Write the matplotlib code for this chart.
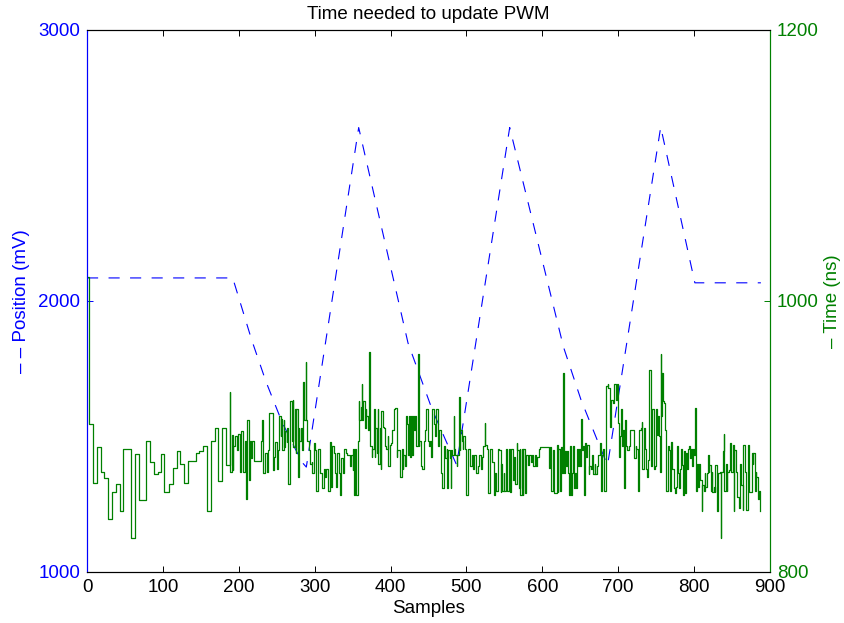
import matplotlib
matplotlib.use('Agg')
import matplotlib.pyplot as plt

plt.rcParams['font.family'] = ['Liberation Sans', 'DejaVu Sans']
plt.rcParams['lines.scale_dashes'] = False

C_POS = '#0000FF'
C_TIME = '#008000'

# ---- data ----
# position setpoint, piecewise linear
pos_idx = [0, 192, 217, 236, 257, 283, 289, 358, 423, 455, 487,
           557, 628, 651, 682, 686, 756, 801, 888]
pos_mv = [2085, 2085, 1856, 1701, 1553, 1406, 1387, 2640, 1845, 1598, 1395,
          2640, 1829, 1635, 1420, 1395, 2642, 2067, 2067]

# time needed per sample (ns), step trace: (sample, value)
time_trace = [
    (0, 1018), (3, 909), (8, 866), (13, 892), (18, 874), (23, 869), (28, 839),
    (33, 859), (38, 865), (43, 845), (48, 891), (58, 825), (63, 887), (68, 853),
    (78, 897), (83, 881), (88, 872), (93, 874), (98, 887), (102, 859), (108, 865),
    (113, 877), (118, 889), (123, 880), (128, 866), (133, 882), (143, 888),
    (148, 889), (153, 893), (158, 845), (163, 897), (168, 906), (173, 867),
    (178, 906), (183, 879), (188, 933), (189, 874), (191, 901), (192, 875),
    (193, 893), (195, 900), (198, 890), (199, 902), (201, 896), (202, 874),
    (203, 904), (205, 902), (206, 874), (208, 897), (209, 854), (211, 912),
    (213, 868), (215, 897), (216, 884), (218, 897), (220, 882), (229, 897),
    (231, 912), (232, 873), (234, 888), (237, 874), (238, 890), (240, 917),
    (245, 875), (246, 885), (248, 896), (250, 876), (252, 890), (253, 915),
    (255, 900), (256, 913), (257, 890), (259, 912), (260, 892), (261, 904),
    (263, 896), (264, 906), (265, 865), (267, 895), (268, 926), (270, 897),
    (271, 927), (272, 892), (274, 920), (275, 888), (276, 920), (278, 870),
    (279, 906), (280, 897), (282, 906), (283, 890), (285, 940), (286, 912),
    (288, 955), (289, 912), (290, 897), (292, 890), (294, 880), (296, 881),
    (297, 873), (299, 895), (300, 890), (302, 860), (304, 891), (307, 873),
    (309, 872), (310, 862), (312, 876), (314, 870), (315, 876), (317, 860),
    (320, 896), (321, 863), (323, 893), (325, 888), (327, 873), (328, 863),
    (330, 888), (332, 873), (334, 857), (335, 884), (337, 873), (339, 891),
    (341, 888), (343, 886), (346, 878), (348, 886), (350, 875), (351, 891),
    (352, 857), (353, 891), (355, 857), (357, 897), (358, 926), (359, 912),
    (361, 922), (362, 939), (363, 912), (364, 926), (366, 906), (367, 920),
    (368, 915), (370, 905), (371, 927), (372, 962), (373, 893), (375, 885),
    (376, 891), (378, 920), (379, 885), (380, 906), (382, 888), (383, 920),
    (384, 880), (386, 906), (387, 876), (388, 919), (390, 907), (391, 906),
    (393, 893), (394, 891), (396, 900), (397, 878), (399, 894), (400, 895),
    (402, 905), (404, 920), (406, 921), (408, 885), (409, 890), (412, 885),
    (413, 870), (415, 891), (416, 876), (417, 886), (419, 878), (420, 915),
    (422, 909), (423, 886), (424, 915), (426, 885), (427, 915), (428, 886),
    (430, 915), (431, 905), (432, 915), (434, 893), (436, 961), (437, 893),
    (438, 897), (440, 878), (442, 876), (444, 897), (445, 905), (447, 920),
    (449, 897), (451, 893), (452, 897), (453, 885), (455, 920), (457, 909),
    (459, 900), (460, 920), (462, 907), (463, 893), (464, 905), (466, 874),
    (467, 873), (468, 862), (470, 890), (471, 893), (472, 884), (474, 891),
    (475, 862), (476, 890), (478, 884), (479, 862), (480, 890), (481, 886),
    (483, 915), (484, 891), (485, 886), (487, 878), (488, 886), (490, 929),
    (491, 890), (492, 905), (494, 897), (495, 891), (496, 900), (498, 891),
    (499, 878), (500, 857), (502, 891), (505, 878), (507, 886), (508, 876),
    (510, 886), (512, 876), (513, 873), (515, 878), (517, 886), (519, 876),
    (520, 885), (522, 893), (524, 910), (525, 894), (527, 891), (529, 858),
    (531, 891), (534, 881), (536, 857), (538, 873), (539, 860), (541, 891),
    (543, 890), (545, 859), (546, 880), (547, 860), (549, 873), (550, 860),
    (552, 891), (554, 860), (556, 891), (557, 859), (559, 891), (561, 868),
    (563, 885), (564, 865), (566, 895), (567, 890), (569, 862), (570, 891),
    (571, 857), (573, 891), (574, 857), (575, 891), (577, 858), (578, 878),
    (579, 886), (581, 879), (583, 886), (585, 881), (586, 886), (588, 878),
    (590, 886), (592, 878), (593, 885), (595, 891), (597, 892), (608, 892),
    (609, 877), (610, 892), (612, 860), (614, 890), (615, 858), (619, 894),
    (620, 859), (621, 891), (623, 860), (624, 892), (626, 873), (627, 947),
    (628, 873), (630, 889), (631, 878), (632, 889), (634, 873), (635, 857),
    (636, 893), (638, 857), (639, 873), (640, 893), (642, 862), (643, 873),
    (644, 862), (646, 891), (647, 878), (648, 891), (650, 878), (651, 913),
    (652, 890), (653, 893), (655, 857), (656, 895), (658, 885), (659, 894),
    (661, 872), (662, 878), (664, 876), (666, 886), (667, 872), (669, 880),
    (670, 872), (672, 878), (674, 886), (676, 895), (677, 860), (679, 886),
    (680, 891), (681, 860), (684, 937), (686, 939), (687, 936), (689, 907),
    (690, 916), (691, 927), (693, 925), (694, 939), (697, 927), (698, 939),
    (700, 910), (701, 885), (702, 900), (704, 920), (705, 893), (706, 905),
    (708, 862), (709, 912), (710, 893), (712, 890), (714, 893), (716, 905),
    (720, 905), (721, 884), (723, 893), (724, 891), (726, 860), (728, 905),
    (730, 906), (731, 911), (732, 876), (734, 906), (735, 891), (737, 876),
    (738, 870), (739, 883), (740, 899), (741, 949), (743, 878), (744, 904),
    (745, 920), (747, 876), (748, 878), (750, 920), (751, 901), (752, 915),
    (754, 900), (755, 874), (756, 961), (757, 915), (758, 947), (759, 926),
    (760, 925), (762, 905), (763, 860), (766, 893), (767, 890), (768, 860),
    (770, 896), (771, 876), (773, 862), (775, 858), (776, 863), (777, 893),
    (779, 873), (780, 862), (781, 876), (783, 891), (784, 879), (785, 857),
    (787, 889), (788, 858), (789, 888), (791, 876), (792, 891), (793, 893),
    (795, 884), (796, 891), (797, 878), (799, 891), (800, 886), (801, 921),
    (802, 860), (804, 880), (805, 863), (806, 880), (808, 868), (810, 845),
    (811, 864), (813, 860), (814, 873), (815, 863), (817, 873), (818, 886),
    (819, 874), (820, 879), (822, 860), (823, 874), (824, 859), (826, 863),
    (827, 859), (828, 879), (830, 845), (831, 860), (832, 873), (834, 874),
    (835, 825), (836, 874), (838, 889), (839, 902), (840, 860), (842, 880),
    (843, 860), (844, 874), (846, 875), (847, 895), (848, 893), (849, 874),
    (851, 894), (852, 845), (853, 890), (855, 874), (856, 863), (857, 855),
    (859, 847), (860, 880), (862, 864), (864, 846), (865, 894), (867, 874),
    (868, 873), (869, 846), (871, 894), (872, 890), (873, 859), (876, 888),
    (877, 880), (878, 888), (880, 860), (881, 874), (882, 870), (884, 854),
    (885, 860), (887, 845),
]
time_idx = [p[0] for p in time_trace]
time_ns = [p[1] for p in time_trace]

x_ticks = list(range(0, 901, 100))
pos_ticks = [1000, 2000, 3000]
time_ticks = [800, 1000, 1200]

FS = 13.5

fig = plt.figure(figsize=(8.44, 6.23), dpi=100)
ax1 = fig.add_axes([0.1031, 0.0819, 0.8092, 0.8700])
ax2 = ax1.twinx()

ax1.plot(pos_idx, pos_mv, color=C_POS, lw=0.8, ls=(0, (8, 7.5)))
ax2.plot(time_idx, time_ns, color=C_TIME, lw=0.9, drawstyle='steps-post')

ax1.set_xlim(0, 900)
ax1.set_ylim(1000, 3000)
ax2.set_ylim(800, 1200)
ax1.set_xticks(x_ticks)
ax1.set_yticks(pos_ticks)
ax2.set_yticks(time_ticks)

ax1.tick_params(axis='x', direction='in', top=True, length=4.5, width=0.7,
                labelsize=FS, pad=5)
ax1.tick_params(axis='y', direction='in', length=4.5, width=0.7, colors=C_POS,
                labelsize=FS, pad=5)
ax2.tick_params(axis='y', direction='in', length=4.5, width=0.7, colors=C_TIME,
                labelsize=FS, pad=5)

for a in (ax1, ax2):
    a.spines['top'].set_color('black')
    a.spines['bottom'].set_color('black')
    a.spines['left'].set_color(C_POS)
    a.spines['right'].set_color(C_TIME)
    for sp in a.spines.values():
        sp.set_linewidth(0.8)

ax1.set_xlabel('Samples', fontsize=FS, labelpad=3)
ax1.set_ylabel('– – Position (mV)', fontsize=FS, color=C_POS)
ax2.set_ylabel('– Time (ns)', fontsize=FS, color=C_TIME)
ax1.yaxis.set_label_coords(-0.0835, 0.5)
ax2.yaxis.set_label_coords(1.079, 0.5)
ax1.set_title('Time needed to update PWM', fontsize=FS, pad=8)

fig.savefig('out.png', dpi=100)
